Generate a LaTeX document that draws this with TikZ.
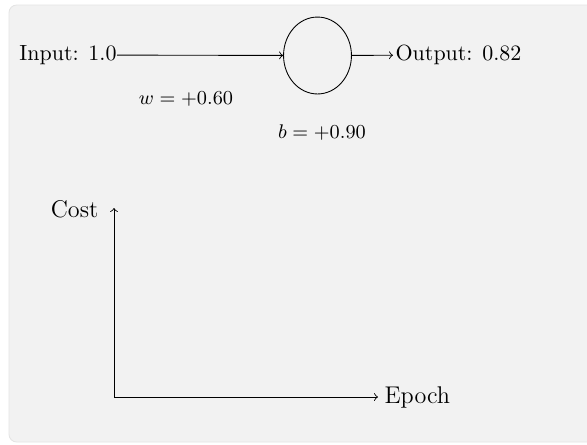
\documentclass[tikz,border=0pt]{standalone}
\usepackage{tikz}
\usetikzlibrary{positioning,shapes.geometric}
\definecolor{panelfill}{HTML}{F2F2F2}
\definecolor{paneledge}{HTML}{E4E4E4}
\tikzset{
    netlabel/.style={inner sep=1pt},
    netparam/.style={inner sep=1pt, font=\small},
    netaxis/.style={inner sep=1pt, font=\fontsize{11}{13}\selectfont},
    netneuron/.style={draw, ellipse, inner sep=0pt, minimum width=30.9pt, minimum height=35pt},
    netarrow/.style={draw, ->},
    netpanel/.style={draw=paneledge, fill=panelfill, rounded corners=3.5pt, line width=0.4pt}
}

\begin{document}
\begin{tikzpicture}[x=0.455pt, y=-0.455pt]
    \useasboundingbox (0,0) rectangle (587,444);
    \path[netpanel] (9,5) rectangle (620,442);

    % single neuron
    \node[netlabel, anchor=east, inner sep=0pt] (input) at (117,55) {Input: 1.0};
    \node[netneuron] (neuron) at (317.5,55.5) {};
    \node[netlabel, anchor=west] (output) at (393,55) {Output: 0.82};
    \node[netparam] (weight) at (186,99) {$w = +0.60$};
    \node[netparam] (bias) at (322,133) {$b = +0.90$};

    \draw[netarrow] (input) -- (neuron);
    \draw[netarrow] (neuron) -- (output);

    % cost axes
    \coordinate (origin) at (114,397);
    \coordinate (ytop) at (114,208);
    \coordinate (xend) at (378,397);
    \node[netaxis, anchor=east] (cost) at (101,209) {Cost};
    \node[netaxis, anchor=west] (epoch) at (382,397) {Epoch};

    \draw[netarrow] (origin) -- (ytop);
    \draw[netarrow] (origin) -- (xend);
\end{tikzpicture}
\end{document}
